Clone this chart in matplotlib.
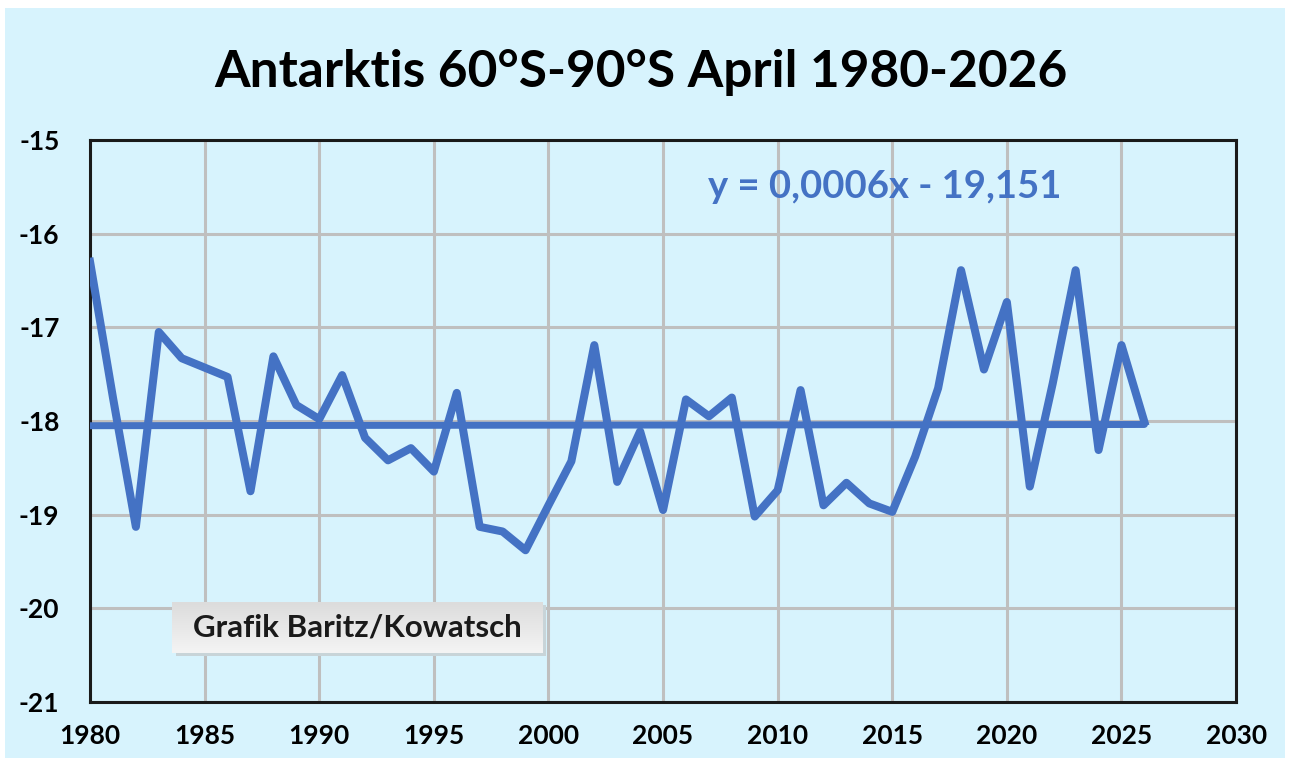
import matplotlib
matplotlib.use("Agg")
import matplotlib.pyplot as plt
from matplotlib.patches import Rectangle
import numpy as np

years = list(range(1980, 2027))
temps = [-16.30, -17.75, -19.13, -17.05, -17.33, -17.43, -17.53, -18.75, -17.31, -17.83,
         -17.98, -17.51, -18.18, -18.42, -18.29, -18.54, -17.70, -19.13, -19.18, -19.38,
         -18.90, -18.43, -17.19, -18.65, -18.11, -18.95, -17.77, -17.95, -17.75, -19.02,
         -18.74, -17.67, -18.90, -18.66, -18.88, -18.97, -18.38, -17.65, -16.39, -17.45,
         -16.73, -18.70, -17.60, -16.39, -18.31, -17.19, -18.01]

title = "Antarktis 60°S-90°S April 1980-2026"
equation = "y = 0,0006x - 19,151"
credit = "Grafik Baritz/Kowatsch"
xticks = list(range(1980, 2031, 5))
yticks = [-21, -20, -19, -18, -17, -16, -15]

bg = "#D7F3FD"
blue = "#4472C4"
font = "Lato"

fig = plt.figure(figsize=(12.9, 7.58), dpi=100)
fig.patch.set_facecolor("white")
fig.patches.append(Rectangle((0.004, 0.0), 0.992, 0.99, transform=fig.transFigure,
                             facecolor=bg, edgecolor="none", zorder=-10))

ax = fig.add_axes([0.0698, 0.0739, 0.8884, 0.7414])
ax.set_facecolor(bg)
ax.set_xlim(1980, 2030)
ax.set_ylim(-21, -15)
ax.set_xticks(xticks)
ax.set_yticks(yticks)
ax.set_xticklabels([str(t) for t in xticks], fontsize=19, fontweight="bold", family=font)
ax.set_yticklabels([str(t) for t in yticks], fontsize=19, fontweight="bold", family=font)
ax.tick_params(axis="x", length=0, pad=16)
ax.tick_params(axis="y", length=0, pad=22)
ax.grid(True, color="#BFBFBF", linewidth=2.2)
ax.set_axisbelow(True)
for s in ax.spines.values():
    s.set_color("#1a1a1a")
    s.set_linewidth(2.2)

ax.plot(years, temps, color=blue, linewidth=5.8, solid_joinstyle="round", zorder=3)

yr = np.array(years, dtype=float)
coef = np.polyfit(yr, np.array(temps), 1)
ax.plot([years[0], years[-1]], np.polyval(coef, [years[0], years[-1]]),
        color=blue, linewidth=5.0, zorder=3, solid_capstyle="round")

ax.text(0.539, 0.916, equation, transform=ax.transAxes, color=blue, fontsize=27.5,
        fontweight="bold", family=font, ha="left", va="center")

# credit box with soft gradient and shadow
bx, by, bw, bh = 0.0716, 0.0872, 0.323, 0.0907
ax.add_patch(Rectangle((bx + 0.003, by - 0.006), bw, bh, transform=ax.transAxes,
                       facecolor="#C8D4D8", edgecolor="none", zorder=4))
grad = np.linspace(0, 1, 64).reshape(-1, 1)
ax.imshow(grad, cmap=matplotlib.colors.LinearSegmentedColormap.from_list(
          "g", ["#F4F4F4", "#DCDCDC"]), aspect="auto", transform=ax.transAxes,
          extent=(bx, bx + bw, by + bh, by), origin="upper", zorder=4.5)
ax.set_xlim(1980, 2030)
ax.set_ylim(-21, -15)
ax.text(bx + bw / 2, by + bh / 2, credit, transform=ax.transAxes, fontsize=22.5,
        fontweight="bold", family=font, color="#1a1a1a", ha="center", va="center",
        zorder=5)

fig.text(0.497, 0.905, title, fontsize=37, fontweight="bold", family=font,
         ha="center", va="center", color="black")

fig.savefig("out.png", dpi=100, facecolor=fig.get_facecolor())
